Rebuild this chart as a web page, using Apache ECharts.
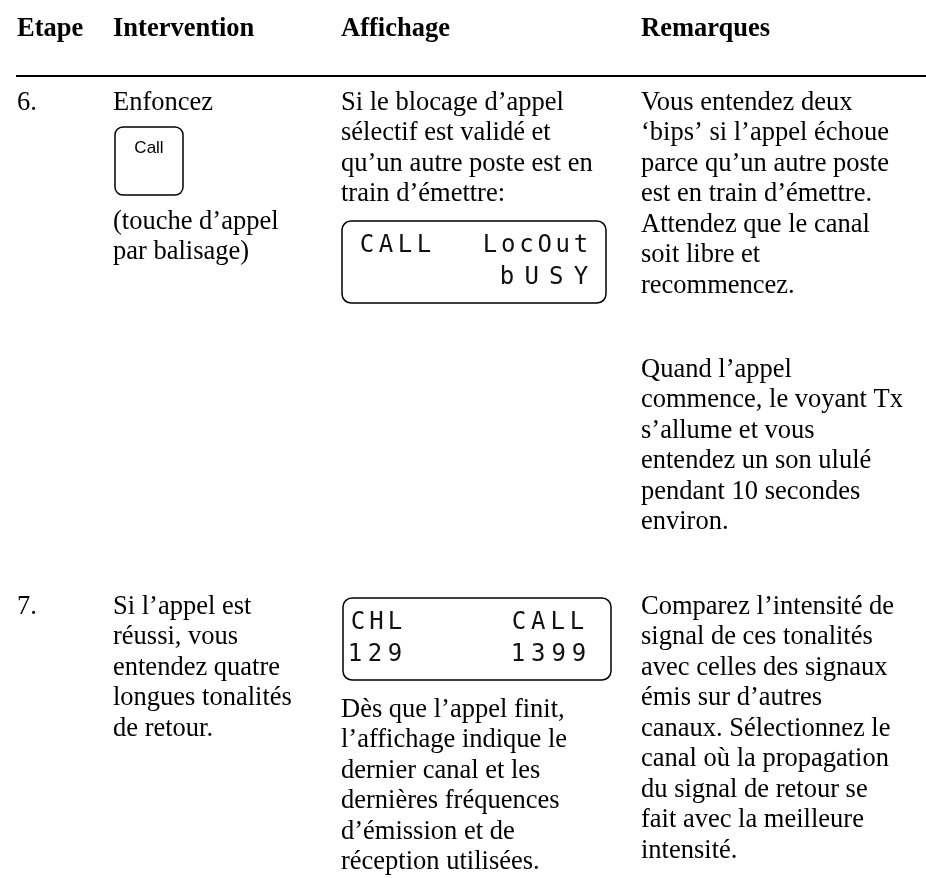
<!DOCTYPE html>
<html><head><meta charset="utf-8">
<script src="https://cdn.jsdelivr.net/npm/echarts@6/dist/echarts.min.js"></script>
<style>html,body{margin:0;padding:0;background:#fff}#c{width:926px;height:878px}</style>
</head><body><div id="c"></div>
<script>
// ---- content (text "data") ----
const headers = ['Etape', 'Intervention', 'Affichage', 'Remarques'];
const stepLabels = ['6.', '7.'];
const step6Intervention = ['Enfoncez'];
const callKeyLabel = 'Call';
const step6InterventionAfter = ['(touche d\u2019appel', 'par balisage)'];
const step6Display = ['Si le blocage d\u2019appel', 's\u00e9lectif est valid\u00e9 et', 'qu\u2019un autre poste est en', 'train d\u2019\u00e9mettre:'];
const lcd1Rows = [['CALL', 'LocOut'], ['', 'bUSY']];
const step6RemarksA = ['Vous entendez deux', '\u2018bips\u2019 si l\u2019appel \u00e9choue', 'parce qu\u2019un autre poste', 'est en train d\u2019\u00e9mettre.', 'Attendez que le canal', 'soit libre et', 'recommencez.'];
const step6RemarksB = ['Quand l\u2019appel', 'commence, le voyant Tx', 's\u2019allume et vous', 'entendez un son ulul\u00e9', 'pendant 10 secondes', 'environ.'];
const step7Intervention = ['Si l\u2019appel est', 'r\u00e9ussi, vous', 'entendez quatre', 'longues tonalit\u00e9s', 'de retour.'];
const lcd2Rows = [['CHL', 'CALL'], ['129', '1399']];
const step7Display = ['D\u00e8s que l\u2019appel finit,', 'l\u2019affichage indique le', 'dernier canal et les', 'derni\u00e8res fr\u00e9quences', 'd\u2019\u00e9mission et de', 'r\u00e9ception utilis\u00e9es.'];
const step7Remarks = ['Comparez l\u2019intensit\u00e9 de', 'signal de ces tonalit\u00e9s', 'avec celles des signaux', '\u00e9mis sur d\u2019autres', 'canaux. S\u00e9lectionnez le', 'canal o\u00f9 la propagation', 'du signal de retour se', 'fait avec la meilleure', 'intensit\u00e9.'];

// ---- layout ----
const colX = [17, 113, 341, 641];
const headerY = 29, ruleY = 76, LH = 30.5;
const row6Y = 103, row7Y = 607;
const serif = '"Liberation Serif", "Times New Roman", serif';
const FS = 26.5;

const els = [];
function txt(s, x, y, opt) {
  opt = opt || {};
  els.push({type: 'text', x: x, y: y, silent: true, style: {
    text: s, fill: opt.fill || '#000', fontSize: opt.size || FS,
    fontFamily: opt.family || serif, fontWeight: opt.weight || 'normal',
    textAlign: opt.align || 'left', textVerticalAlign: 'middle'}});
}
function lines(arr, x, y0) { arr.forEach((s, i) => txt(s, x, y0 + i * LH)); }
function box(x, y, w, h, r, lw) {
  els.push({type: 'rect', silent: true, shape: {x: x, y: y, width: w, height: h, r: r},
    style: {fill: 'none', stroke: '#000', lineWidth: lw}});
}
const mono = '"DejaVu Sans Mono", "Liberation Mono", monospace';
// spans: [[leftFirstCenter, leftLastCenter], [rightFirstCenter, rightLastCenter]] per row, relative to box left
function lcd(rows, bx, by, bw, spans) {
  const bh = 82;
  box(bx, by, bw, bh, 9, 1.5);
  const rowY = [by + 25, by + 57];
  rows.forEach((r, ri) => {
    [0, 1].forEach(side => {
      const s = r[side];
      if (!s) return;
      const a = spans[ri][side][0], b = spans[ri][side][1];
      const step = s.length > 1 ? (b - a) / (s.length - 1) : 0;
      for (let i = 0; i < s.length; i++)
        txt(s[i], bx + a + i * step, rowY[ri], {family: mono, size: 24, align: 'center', fill: '#111'});
    });
  });
}

// header
headers.forEach((h, i) => txt(h, colX[i], headerY, {weight: 'bold'}));
els.push({type: 'line', silent: true, shape: {x1: 16, y1: ruleY, x2: 926, y2: ruleY}, style: {stroke: '#000', lineWidth: 2}});

// step 6
txt(stepLabels[0], colX[0], row6Y);
lines(step6Intervention, colX[1], row6Y);
box(115, 127, 68, 68, 8, 1.5);
txt(callKeyLabel, 149, 148, {family: '"Liberation Sans", Arial, sans-serif', size: 17, align: 'center'});
lines(step6InterventionAfter, colX[1], 222);
lines(step6Display, colX[2], row6Y);
lcd(lcd1Rows, 342, 221, 264, [[[25, 82], [148, 239]], [[0, 0], [165, 239]]]);
lines(step6RemarksA, colX[3], row6Y);
lines(step6RemarksB, colX[3], 370);

// step 7
txt(stepLabels[1], colX[0], row7Y);
lines(step7Intervention, colX[1], row7Y);
lcd(lcd2Rows, 343, 598, 268, [[[15, 52], [176, 234]], [[12, 52], [175, 236]]]);
lines(step7Display, colX[2], 710);
lines(step7Remarks, colX[3], row7Y);

const chart = echarts.init(document.getElementById('c'), null, {renderer: 'canvas'});
chart.setOption({animation: false, backgroundColor: '#fff', graphic: {elements: els}});
</script></body></html>
